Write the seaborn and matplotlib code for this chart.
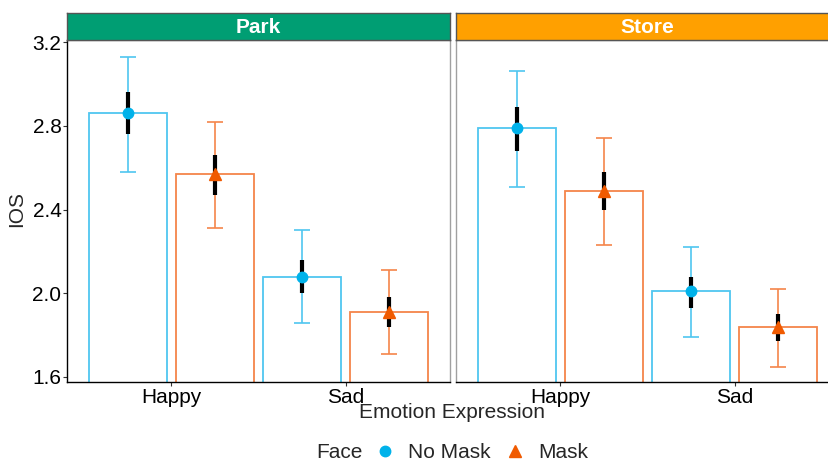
import numpy as np
import pandas as pd
import matplotlib
matplotlib.use('Agg')
import matplotlib.pyplot as plt
from matplotlib.lines import Line2D
import seaborn as sns

PLACES   = ['Park', 'Store']
EMOTIONS = ['Happy', 'Sad']
FACES    = ['No Mask', 'Mask']

# means, 95% CI (thin coloured bars) and SE (thick black bars), per place
# order inside each list: Happy, Sad
MEAN = {
    ('Park', 'No Mask'):  [2.86, 2.08],
    ('Park', 'Mask'):     [2.57, 1.91],
    ('Store', 'No Mask'): [2.79, 2.01],
    ('Store', 'Mask'):    [2.49, 1.84],
}
CI_LO = {
    ('Park', 'No Mask'):  [2.58, 1.86],
    ('Park', 'Mask'):     [2.31, 1.71],
    ('Store', 'No Mask'): [2.51, 1.79],
    ('Store', 'Mask'):    [2.23, 1.65],
}
CI_HI = {
    ('Park', 'No Mask'):  [3.13, 2.30],
    ('Park', 'Mask'):     [2.82, 2.11],
    ('Store', 'No Mask'): [3.06, 2.22],
    ('Store', 'Mask'):    [2.74, 2.02],
}
SE_LO = {
    ('Park', 'No Mask'):  [2.76, 2.00],
    ('Park', 'Mask'):     [2.47, 1.84],
    ('Store', 'No Mask'): [2.68, 1.93],
    ('Store', 'Mask'):    [2.40, 1.77],
}
SE_HI = {
    ('Park', 'No Mask'):  [2.96, 2.16],
    ('Park', 'Mask'):     [2.66, 1.98],
    ('Store', 'No Mask'): [2.89, 2.08],
    ('Store', 'Mask'):    [2.58, 1.90],
}
Y_TICKS = [1.6, 2.0, 2.4, 2.8, 3.2]

FACE_COLORS = {'No Mask': '#00B2EA', 'Mask': '#F05A00'}
BAR_COLORS  = {'No Mask': '#4FC6F0', 'Mask': '#F5854A'}
MARKERS     = {'No Mask': 'o', 'Mask': '^'}
MSIZE       = {'No Mask': 7.5, 'Mask': 8.5}
STRIP_COLORS = {'Park': '#009E73', 'Store': '#FFA000'}

rows = []
for p in PLACES:
    for f in FACES:
        for i, e in enumerate(EMOTIONS):
            rows.append({'Place': p, 'Face': f, 'Emotion': e,
                         'IOS': MEAN[(p, f)][i],
                         'ci_lo': CI_LO[(p, f)][i], 'ci_hi': CI_HI[(p, f)][i],
                         'se_lo': SE_LO[(p, f)][i], 'se_hi': SE_HI[(p, f)][i]})
df = pd.DataFrame(rows)

sns.set_style('white')
plt.rcParams['font.family'] = ['Liberation Sans', 'DejaVu Sans']

W, H = 829, 462
fig = plt.figure(figsize=(W / 100, H / 100), dpi=100)

def fx(px): return px / W
def fy(py): return 1 - py / H

panel_left = {'Park': 67, 'Store': 456}
panel_w = 383
top, bottom, strip_top = 40, 382, 13

for k, place in enumerate(PLACES):
    x0 = panel_left[place]
    ax = fig.add_axes([fx(x0), fy(bottom), fx(panel_w), (bottom - top) / H])
    sub = df[df.Place == place]
    sns.barplot(data=sub, x='Emotion', y='IOS', hue='Face', order=EMOTIONS,
                hue_order=FACES, fill=False, width=1.0, gap=0.1,
                errorbar=None, palette=BAR_COLORS, linewidth=1.3,
                legend=False, ax=ax)

    for cont, face in zip(ax.containers, FACES):
        s = sub[sub.Face == face].set_index('Emotion').loc[EMOTIONS]
        xs = np.array([b.get_x() + b.get_width() / 2 for b in cont])
        m = s['IOS'].values
        ax.errorbar(xs, m, yerr=[m - s['ci_lo'].values, s['ci_hi'].values - m],
                    fmt='none', ecolor=BAR_COLORS[face], elinewidth=1.2,
                    capsize=6, capthick=1.2, zorder=3)
        ax.vlines(xs, s['se_lo'].values, s['se_hi'].values, color='black',
                  linewidth=3, zorder=4)
        ax.plot(xs, m, linestyle='none', marker=MARKERS[face],
                markersize=MSIZE[face], color=FACE_COLORS[face], zorder=5)

    ax.set_xlim(-0.6, 1.6)
    ax.set_ylim(1.576, 3.21)
    ax.set_yticks(Y_TICKS)
    ax.set_xlabel('')
    ax.set_ylabel('')
    ax.tick_params(axis='both', labelsize=15, length=3, width=0.8,
                   colors='#333333', labelcolor='black', direction='out')
    ax.tick_params(axis='x', bottom=True, pad=1)
    if k == 0:
        ax.set_yticklabels([f'{v:.1f}' for v in Y_TICKS])
        ax.tick_params(axis='y', left=True, pad=1)
        ax.spines['left'].set_color('black')
    else:
        ax.set_yticklabels([])
        ax.tick_params(axis='y', left=False)
        ax.spines['left'].set_color('#A0A0A0')
    ax.spines['bottom'].set_color('black')
    for sp in ['right', 'top']:
        ax.spines[sp].set_color('#A0A0A0')
    for sp in ax.spines.values():
        sp.set_linewidth(1.0)

    # facet strip
    sax = fig.add_axes([fx(x0), fy(top), fx(panel_w), (top - strip_top) / H])
    sax.set_facecolor(STRIP_COLORS[place])
    sax.set_xticks([]); sax.set_yticks([])
    for sp in sax.spines.values():
        sp.set_color('#555555'); sp.set_linewidth(1.0)
    sax.text(0.5, 0.47, place, transform=sax.transAxes, ha='center', va='center',
             color='white', fontsize=15, fontweight='bold')

fig.text(fx(452), fy(413), 'Emotion Expression', ha='center', va='center', fontsize=15)
fig.text(fx(17), fy(209), 'IOS', ha='center', va='center', rotation=90, fontsize=15)

fig.text(fx(316), fy(453), 'Face', ha='left', va='center', fontsize=15)
handles = [Line2D([], [], linestyle='none', marker=MARKERS[f],
                  markersize=MSIZE[f], color=FACE_COLORS[f]) for f in FACES]
fig.legend(handles, FACES, loc='center left', bbox_to_anchor=(fx(373), fy(453)),
           ncol=2, frameon=False, fontsize=15, handletextpad=0.5,
           columnspacing=0.55, handlelength=1.2, borderpad=0, borderaxespad=0)

fig.savefig('out.png', dpi=100, facecolor='white')
